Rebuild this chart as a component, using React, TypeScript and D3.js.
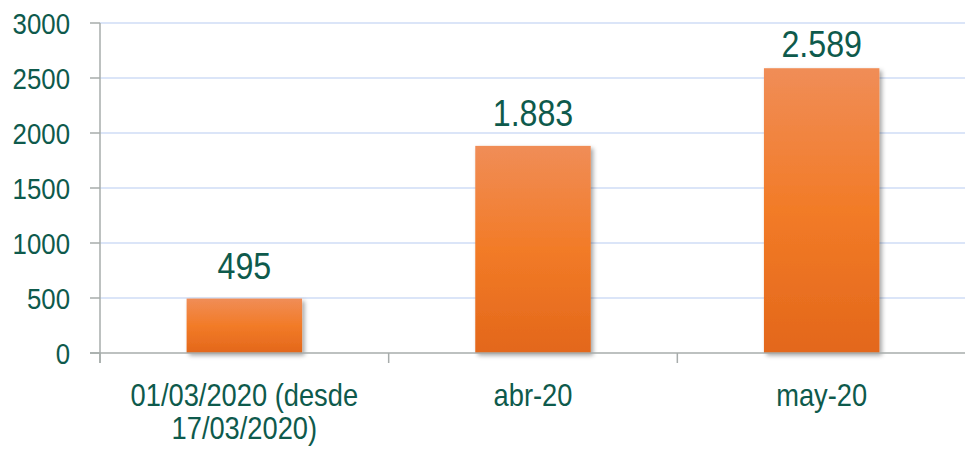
import React from "react";
import * as d3 from "d3";

const categories = ["01/03/2020 (desde 17/03/2020)", "abr-20", "may-20"];
const categoryLines = [["01/03/2020 (desde", "17/03/2020)"], ["abr-20"], ["may-20"]];
const values = [495, 1883, 2589];
const valueLabels = ["495", "1.883", "2.589"];
const yTicks = [0, 500, 1000, 1500, 2000, 2500, 3000];

const W = 965, H = 449;
const margin = { left: 100, right: 0, top: 23, bottom: 96 };
const textColor = "#0e5a4c";
const font = "'Liberation Sans', Arial, sans-serif";

export default function App() {
  const x = d3.scaleBand<string>().domain(categories).range([margin.left, W + 1]).paddingInner(0).paddingOuter(0);
  const y = d3.scaleLinear().domain([0, 3000]).range([H - margin.bottom, margin.top]);
  const bw = x.bandwidth() * 0.4;
  const y0 = y(0);
  const boundaries = categories.map((c) => x(c)!).concat([x(categories[categories.length - 1])! + x.bandwidth()]);
  return (
    <svg width={W} height={H} style={{ position: "absolute", left: 0, top: 0, background: "#fff" }} fontFamily={font}>
      <defs>
        <linearGradient id="barGrad" x1="0" y1="0" x2="0" y2="1">
          <stop offset="0" stopColor="#f08d57" />
          <stop offset="0.5" stopColor="#f27b27" />
          <stop offset="1" stopColor="#e3671b" />
        </linearGradient>
        <filter id="shadow" x="-20%" y="-20%" width="140%" height="140%">
          <feDropShadow dx="2.5" dy="2.5" stdDeviation="2" floodColor="#000" floodOpacity="0.35" />
        </filter>
      </defs>
      {yTicks.filter((t) => t > 0).map((t) => (
        <line key={t} x1={margin.left} x2={W} y1={y(t)} y2={y(t)} stroke="#cfdcf6" strokeWidth={1.5} />
      ))}
      {values.map((v, i) => {
        const cx = x(categories[i])! + x.bandwidth() / 2;
        return (
          <rect key={i} x={cx - bw / 2} y={y(v)} width={bw} height={y0 - y(v)} fill="url(#barGrad)" filter="url(#shadow)" />
        );
      })}
      <line x1={margin.left} x2={margin.left} y1={margin.top} y2={y0 + 10} stroke="#a7acab" strokeWidth={1.5} />
      <line x1={margin.left - 10} x2={W} y1={y0} y2={y0} stroke="#a7acab" strokeWidth={1.5} />
      {yTicks.map((t) => (
        <g key={t}>
          <line x1={margin.left - 10} x2={margin.left} y1={y(t)} y2={y(t)} stroke="#a7acab" strokeWidth={1.5} />
          <text transform={`translate(${margin.left - 30},${y(t) + 10.5}) scale(0.86,1)`} textAnchor="end" fontSize={30} fill={textColor}>{t}</text>
        </g>
      ))}
      {boundaries.map((b, i) => (
        <line key={i} x1={b} x2={b} y1={y0} y2={y0 + 10} stroke="#a7acab" strokeWidth={1.5} />
      ))}
      {categoryLines.map((lines, i) => {
        const cx = x(categories[i])! + x.bandwidth() / 2;
        return lines.map((l, j) => (
          <text key={`${i}-${j}`} transform={`translate(${cx},${y0 + 53 + j * 33}) scale(0.88,1)`} textAnchor="middle" fontSize={31} fill={textColor}>{l}</text>
        ));
      })}
      {values.map((v, i) => {
        const cx = x(categories[i])! + x.bandwidth() / 2;
        const ly = Math.max(y(v) - 20, margin.top + 34);
        return (
          <text key={i} transform={`translate(${cx},${ly}) scale(0.87,1)`} textAnchor="middle" fontSize={37} fill={textColor}>{valueLabels[i]}</text>
        );
      })}
    </svg>
  );
}
